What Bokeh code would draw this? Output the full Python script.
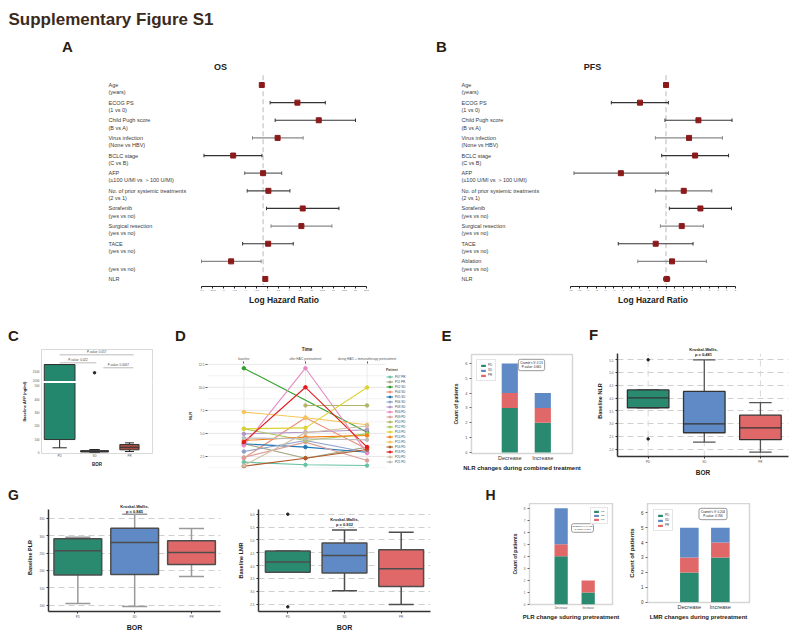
from bokeh.plotting import figure
from bokeh.layouts import column, row
from bokeh.models import Range1d, FixedTicker, Label, Span, Legend, LegendItem, ColumnDataSource
from bokeh.core.properties import value
from bokeh.embed import file_html
from bokeh.resources import INLINE

FONT = "Liberation Sans"
INK = "#222222"
TICK = "#555555"
LETTER = "#2b1d12"

# ---------------- data ----------------
# A / B : forest plots (log hazard ratio with 95% CI)
os_labels = ["Age", "ECOG PS", "Child Pugh score", "Virus infection", "BCLC stage", "AFP",
             "No. of prior systemic treatments", "Sorafenib", "Surgical resection", "TACE", "", "NLR"]
pfs_labels = ["Age", "ECOG PS", "Child Pugh score", "Virus infection", "BCLC stage", "AFP",
              "No. of prior systemic treatments", "Sorafenib", "Surgical resection", "TACE", "Ablation", "NLR"]
sub_labels = ["(years)", "(1 vs 0)", "(B vs A)", "(None vs HBV)", "(C vs B)", "(≤100 U/Ml vs ＞100 U/Ml)",
              "(2 vs 1)", "(yes vs no)", "(yes vs no)", "(yes vs no)", "(yes vs no)", ""]
os_est = [-0.3, 7.8, 12.65, 3.3, -6.8, 0.0, 1.2, 9.0, 8.7, 1.15, -7.27, 0.5]
os_lo = [-0.4, 1.6, 2.74, -2.41, -13.44, -4.18, -3.62, 0.77, 1.8, -4.65, -14.0, 0.4]
os_hi = [-0.2, 14.14, 21.0, 9.1, -0.26, 4.23, 6.1, 17.23, 15.64, 6.85, -0.44, 0.6]
os_ticks = [-14, -11.5, -9, -6.5, -4, -1.5, 1, 3.5, 6, 8.5, 11, 13.5, 16, 18.5, 21, 23.5]
pfs_est = [0.0, -3.0, 3.73, 2.65, 3.35, -5.2, 2.04, 3.96, 1.81, -1.19, 0.69, 0.08]
pfs_lo = [-0.1, -6.3, -0.12, -1.23, -0.5, -10.6, -1.23, 0.38, -0.65, -5.5, -3.25, -0.27]
pfs_hi = [0.1, 0.27, 7.6, 6.5, 7.2, 0.27, 5.27, 7.54, 4.3, 3.11, 4.65, 0.42]
pfs_ticks = [-11, -10, -9, -8, -7, -6, -5, -4, -3, -2, -1, 0, 1, 2, 3, 4, 5, 6, 7, 8]

# C : baseline AFP by BOR (broken axis)
bor = ["PD", "SD", "PR"]
afp_q1 = [95, 2, 18]
afp_med = [2890, 5, 37]
afp_q3 = [2890, 12, 58]
afp_lo = [33, 0, 5]
afp_hi = [2890, 20, 70]
afp_out_x = [1]
afp_out_y = [2430]
afp_ticks = [0, 100, 200, 300, 400, 500, 2000, 2500]
afp_pairs = [(0, 2.12), (0, 1.05), (1.25, 2.11)]
afp_pvals = ["P-value: 0.057", "P-value: 0.022", "P-value: 0.0067"]

# D : NLR over time per patient
time_labels = ["baseline", "after HAIC pretreatment", "during HAIC + immunotherapy pretreatment"]
patients = ["P07 PR", "P11 PR", "P02 SD", "P04 SD", "P05 SD", "P06 SD", "P08 SD", "P03 PD", "P09 PD",
            "P10 PD", "P12 PD", "P13 PD", "P14 PD", "P15 PD", "P16 PD", "P18 PD", "P20 PD", "P21 PD"]
nlr_baseline = [1.88, 3.87, 12.07, 2.31, 3.87, 3.03, 4.95, 3.70, 2.40, None, 5.50, 5.50, 4.23, 7.31, 1.44, 4.05, 1.51, 4.50]
nlr_after = [1.59, 2.31, None, 6.70, 3.51, 4.23, 5.13, 12.07, 4.05, 8.03, 4.23, 5.60, 4.59, 6.70, 2.31, 10.0, 5.06, 4.41]
nlr_during = [1.51, 3.51, 5.13, 3.30, 2.96, 2.96, 5.40, 2.86, 2.06, 8.03, 4.95, 9.98, 4.77, 5.93, 3.25, 3.51, 5.80, 4.30]
nlr_major = [2.5, 5.0, 7.5, 10.0, 12.5]
nlr_minor = [1.25, 3.75, 6.25, 8.75, 11.25]

# E : NLR change vs BOR counts
change_cats = ["Decrease", "Increase"]
e_pd = [3, 2]
e_pr = [1, 1]
e_sd = [2, 1]

# F : baseline NLR box stats
nlr_q1 = [3.62, 2.64, 2.37]
nlr_med = [4.01, 2.99, 2.83]
nlr_q3 = [4.32, 4.26, 3.33]
nlr_lo = [3.62, 2.27, 1.88]
nlr_hi = [4.32, 5.50, 3.82]
nlr_out_x = [0, 0]
nlr_out_y = [5.50, 2.40]
nlr_ticks = [2.0, 2.5, 3.0, 3.5, 4.0, 4.5, 5.0, 5.5]

# G : baseline PLR / LMR box stats
plr_q1 = [187.4, 188.5, 217.0]
plr_med = [256.7, 281.0, 252.0]
plr_q3 = [291.3, 322.0, 285.6]
plr_lo = [105.0, 96.0, 183.0]
plr_hi = [296.0, 362.0, 321.0]
plr_ticks = [100, 150, 200, 250, 300, 350]
lmr_q1 = [3.75, 3.72, 3.20]
lmr_med = [4.15, 4.40, 3.89]
lmr_q3 = [4.57, 4.88, 4.62]
lmr_lo = [3.75, 3.03, 2.50]
lmr_hi = [4.57, 5.39, 5.30]
lmr_out_x = [0, 0]
lmr_out_y = [6.0, 2.41]
lmr_ticks = [2.5, 3.0, 3.5, 4.0, 4.5, 5.0, 5.5, 6.0]

# H : PLR / LMR change vs BOR counts
h1_pd = [4, 1]
h1_pr = [1, 1]
h1_sd = [3, 0]
h2_pd = [2, 3]
h2_pr = [1, 1]
h2_sd = [2, 1]

GREEN = "#2a8a70"
BLUE = "#5f8ac6"
RED = "#e06868"
patient_colors = ["#66c2a5", "#a6a683", "#33a02c", "#e8907a", "#1f78b4", "#8da0cb", "#b294c7", "#e78ac3",
                  "#d9a09b", "#b5b56a", "#a8c85a", "#ddd232", "#f57f17", "#f6c45a", "#b15928", "#e31a1c",
                  "#d0bda3", "#bdbdbd"]


# ---------------- helpers ----------------
def mkfig(page, frame, xr, yr, x_axis_location="below", y_axis_location="left"):
    x0, y0, x1, y1 = page
    fl, ft, fr, fb = frame
    p = figure(frame_width=fr - fl, frame_height=fb - ft,
               min_border_left=fl - x0, min_border_right=x1 - fr,
               min_border_top=ft - y0, min_border_bottom=y1 - fb,
               x_range=Range1d(*xr), y_range=Range1d(*yr),
               x_axis_location=x_axis_location, y_axis_location=y_axis_location,
               output_backend="svg", toolbar_location=None, title=None)
    if "frame_align" in p.properties():
        p.frame_align = False
    p.outline_line_color = None
    p.background_fill_color = "white"
    p.border_fill_color = "white"
    p.grid.visible = False
    return p


def put(p, frame, px, py, text, size, bold=False, align="center", baseline="middle",
        angle=0.0, color=INK, **kw):
    fl, ft, fr, fb = frame
    p.add_layout(Label(x=px - fl, y=fb - py, x_units="screen", y_units="screen",
                       text=text, text_font=FONT, text_font_size=f"{size}px",
                       text_font_style="bold" if bold else "normal",
                       text_align=align, text_baseline=baseline, angle=angle,
                       text_color=color, **kw))


def style_axis(ax, label, label_size, tick_size, line_color=None, line_width=1.0,
               tick_out=2, label_standoff=2, tick_standoff=2, tick_color=TICK):
    ax.axis_label = label
    ax.axis_label_text_font = FONT
    ax.axis_label_text_font_size = f"{label_size}px"
    ax.axis_label_text_font_style = "bold"
    ax.axis_label_text_color = INK
    ax.axis_label_standoff = label_standoff
    ax.major_label_text_font = FONT
    ax.major_label_text_font_size = f"{tick_size}px"
    ax.major_label_text_color = tick_color
    ax.major_label_standoff = tick_standoff
    ax.axis_line_color = line_color
    ax.axis_line_width = line_width
    ax.major_tick_line_color = line_color if line_color else "#666666"
    ax.major_tick_in = 0
    ax.major_tick_out = tick_out
    ax.minor_tick_line_color = None


def forest(page, frame, labels, est, lo, hi, ticks, axis_px, label_px, shades):
    fl, ft, fr, fb = frame
    a0, a1 = axis_px
    t0, t1 = ticks[0], ticks[-1]
    sc = (a1 - a0) / (t1 - t0)
    xr = (t0 - (a0 - fl) / sc, t1 + (fr - a1) / sc)
    n = len(labels)
    r0_px, rn_px = 84.5, 278.5
    rs = (rn_px - r0_px) / (n - 1)
    yr = ((n - 1) + (fb - rn_px) / rs, -(r0_px - ft) / rs)
    p = mkfig(page, frame, xr, yr, x_axis_location=None, y_axis_location=None)
    rows = list(range(n))
    p.segment(x0=[0], y0=[-0.55], x1=[0], y1=[yr[0]], line_color="#d0d0d0",
              line_dash="5 3", line_width=1.5)
    p.segment(x0=lo, y0=rows, x1=hi, y1=rows, line_color=shades, line_width=1.2)
    p.segment(x0=lo, y0=[r - 0.1 for r in rows], x1=lo, y1=[r + 0.1 for r in rows],
              line_color=shades, line_width=1.0)
    p.segment(x0=hi, y0=[r - 0.1 for r in rows], x1=hi, y1=[r + 0.1 for r in rows],
              line_color=shades, line_width=1.0)
    p.scatter(x=est, y=rows, marker="square", size=5, fill_color="#8b1a1a", line_color="#8b1a1a")
    lx = xr[0] + (label_px - fl) / sc
    p.text(x=[lx] * n, y=rows, text=labels, text_font=value(FONT), text_font_size=value("5.5px"),
           text_baseline="middle", text_align="left", text_color="#3a3a3a")
    p.text(x=[lx] * n, y=[r + 0.41 for r in rows], text=sub_labels, text_font=value(FONT),
           text_font_size=value("5.5px"), text_baseline="middle", text_align="left", text_color="#3a3a3a")
    return p


def forest_axis(page, ticks, axis_px):
    x0, y0, x1, y1 = page
    a0, a1 = axis_px
    q = mkfig(page, (a0, y0, a1, y0 + 1), (ticks[0], ticks[-1]), (0, 1), y_axis_location=None)
    ax = q.xaxis[0]
    ax.ticker = FixedTicker(ticks=ticks)
    style_axis(ax, "Log Hazard Ratio", 8.5, 2.5, line_color="#222222", tick_out=2,
               label_standoff=1, tick_standoff=1)
    return q


def boxplot(p, q1, med, q3, lo, hi, colors, width, cap_w, box_line, whisk_color, lw):
    xs = list(range(len(q1)))
    p.segment(x0=xs, y0=q3, x1=xs, y1=hi, line_color=whisk_color, line_width=lw)
    p.segment(x0=xs, y0=lo, x1=xs, y1=q1, line_color=whisk_color, line_width=lw)
    p.segment(x0=[x - cap_w / 2 for x in xs], y0=hi, x1=[x + cap_w / 2 for x in xs], y1=hi,
              line_color=whisk_color, line_width=lw)
    p.segment(x0=[x - cap_w / 2 for x in xs], y0=lo, x1=[x + cap_w / 2 for x in xs], y1=lo,
              line_color=whisk_color, line_width=lw)
    p.vbar(x=xs, bottom=q1, top=q3, width=width, fill_color=colors, line_color=box_line, line_width=lw)
    p.segment(x0=[x - width / 2 for x in xs], y0=med, x1=[x + width / 2 for x in xs], y1=med,
              line_color=box_line, line_width=lw)


def bor_axes(p, ylabel, yticks, fmt, ybounds, xlab_size=6.5, ylab_size=5.5):
    style_axis(p.xaxis[0], "BOR", xlab_size, 3, line_color="#333333", line_width=1.5,
               label_standoff=2, tick_standoff=2)
    p.xaxis[0].ticker = FixedTicker(ticks=[0, 1, 2])
    p.xaxis[0].major_label_overrides = {i: b for i, b in enumerate(bor)}
    style_axis(p.yaxis[0], ylabel, ylab_size, 3, line_color="#333333", line_width=1.5,
               label_standoff=3, tick_standoff=2)
    p.yaxis[0].ticker = FixedTicker(ticks=yticks)
    p.yaxis[0].bounds = ybounds
    p.yaxis[0].major_label_overrides = {t: fmt.format(t) for t in yticks}
    p.ygrid.visible = True
    p.ygrid.grid_line_color = "#cfcfcf"
    p.ygrid.grid_line_dash = "6 4"
    p.ygrid.grid_line_width = 1


def stacked(p, pd_, pr_, sd_, width, legend_loc, legend_font, glyph_h, legend_margin, padding=3):
    src = ColumnDataSource(dict(x=[0, 1], PD=pd_, PR=pr_, SD=sd_))
    rs = p.vbar_stack(["PD", "PR", "SD"], x="x", width=width, fill_color=[GREEN, RED, BLUE],
                      line_color=None, source=src)
    leg = Legend(items=[LegendItem(label="PD", renderers=[rs[0]]),
                        LegendItem(label="SD", renderers=[rs[2]]),
                        LegendItem(label="PR", renderers=[rs[1]])],
                 location=legend_loc, label_text_font=FONT, label_text_font_size=f"{legend_font}px",
                 glyph_height=int(glyph_h), glyph_width=int(glyph_h * 2), label_height=int(glyph_h),
                 label_width=int(legend_font * 1.6), spacing=1, padding=padding, margin=legend_margin,
                 label_standoff=2, border_line_color="#cccccc", border_line_width=1,
                 background_fill_color="white")
    p.add_layout(leg)
    p.outline_line_color = "#d6d6d6"
    p.outline_line_width = 1.5


def strip(page):
    x0, y0, x1, y1 = page
    return mkfig(page, page, (x0, x1), (y1, y0), x_axis_location=None, y_axis_location=None)


# ---------------- row 1 : A / B ----------------
pageA, frameA = (0, 0, 400, 285), (0, 0, 400, 285)
pageB, frameB = (400, 0, 796, 285), (400, 0, 796, 285)
shades_os = ["#333333", "#333333", "#333333", "#888888", "#333333", "#666666", "#444444", "#333333",
             "#888888", "#333333", "#888888", "#333333"]
shades_pfs = ["#333333", "#333333", "#333333", "#888888", "#333333", "#666666", "#777777", "#333333",
              "#888888", "#333333", "#888888", "#333333"]
axA, axB = (201, 366), (570, 735)
pA = forest(pageA, frameA, os_labels, os_est, os_lo, os_hi, os_ticks, axA, 108, shades_os)
put(pA, frameA, 8, 19, "Supplementary Figure S1", 17, bold=True, align="left", color="#3b2a1e")
put(pA, frameA, 67, 46, "A", 15, bold=True, color=LETTER)
put(pA, frameA, 220, 66, "OS", 9, bold=True)
pB = forest(pageB, frameB, pfs_labels, pfs_est, pfs_lo, pfs_hi, pfs_ticks, axB, 461, shades_pfs)
put(pB, frameB, 441, 46, "B", 15, bold=True, color=LETTER)
put(pB, frameB, 592, 66, "PFS", 9, bold=True)
pAx = forest_axis((0, 285, 400, 316), os_ticks, axA)
pBx = forest_axis((400, 285, 796, 316), pfs_ticks, axB)

# ---------------- row 2 ----------------
s2page = (0, 316, 796, 344)
s2 = strip(s2page)
for ch, cx, cy in [("C", 13, 335), ("D", 180, 335), ("E", 446, 335), ("F", 593, 334)]:
    put(s2, s2page, cx, cy, ch, 15, bold=True, color=LETTER)

# C
AFP_BREAK_LO, AFP_BREAK_HI, AFP_GAP, AFP_UPPER = 500, 2000, 38, 0.134


def afp_disp(v):
    return v if v <= AFP_BREAK_LO else AFP_BREAK_LO + AFP_GAP + (v - AFP_BREAK_HI) * AFP_UPPER


pageC, frameC = (0, 344, 170, 476), (41, 349, 152, 453)
pC = mkfig(pageC, frameC, (-0.52, 2.66), (-9.7, 770))
pC.outline_line_color = "#d9d9d9"
pC.outline_line_width = 1
xs3 = [0, 1, 2]
c_w = [0.88, 0.8, 0.55]
c_cap = [0.41, 0.3, 0.26]
c_cols = ["#23876e", "#808080", "#a84c40"]
pC.segment(x0=xs3, y0=[afp_disp(v) for v in afp_lo], x1=xs3, y1=[afp_disp(v) for v in afp_q1],
           line_color="#222222", line_width=1)
pC.segment(x0=xs3, y0=[afp_disp(v) for v in afp_q3], x1=xs3, y1=[afp_disp(v) for v in afp_hi],
           line_color="#222222", line_width=1)
pC.segment(x0=[x - c / 2 for x, c in zip(xs3, c_cap)], y0=[afp_disp(v) for v in afp_lo],
           x1=[x + c / 2 for x, c in zip(xs3, c_cap)], y1=[afp_disp(v) for v in afp_lo],
           line_color="#222222", line_width=1)
pC.segment(x0=[x - c / 2 for x, c in zip(xs3, c_cap)], y0=[afp_disp(v) for v in afp_hi],
           x1=[x + c / 2 for x, c in zip(xs3, c_cap)], y1=[afp_disp(v) for v in afp_hi],
           line_color="#222222", line_width=1)
pC.vbar(x=xs3, width=c_w, bottom=[afp_disp(v) for v in afp_q1], top=[afp_disp(v) for v in afp_q3],
        fill_color=c_cols, line_color="#333333", line_width=1)
pC.segment(x0=[x - w / 2 for x, w in zip(xs3, c_w)], y0=[afp_disp(v) for v in afp_med],
           x1=[x + w / 2 for x, w in zip(xs3, c_w)], y1=[afp_disp(v) for v in afp_med],
           line_color="#333333", line_width=1)
pC.scatter(x=afp_out_x, y=[afp_disp(v) for v in afp_out_y], size=2.5, color="#222222")
pC.add_layout(Span(location=AFP_BREAK_LO + AFP_GAP * 0.7, dimension="width", line_color="white",
                   line_width=2))
br_y = [730, 670, 633]
for (a, b), yv, t in zip(afp_pairs, br_y, afp_pvals):
    pC.segment(x0=[a], y0=[yv], x1=[b], y1=[yv], line_color="#bbbbbb", line_width=1)
    pC.text(x=[(a + b) / 2], y=[yv], text=[t], text_font=value(FONT), text_font_size=value("3px"),
            text_align="center", text_baseline="bottom", text_color="#444444", y_offset=-1)
style_axis(pC.xaxis[0], "BOR", 4.5, 3, line_color=None, tick_out=0, label_standoff=1, tick_standoff=1)
pC.xaxis[0].ticker = FixedTicker(ticks=xs3)
pC.xaxis[0].major_label_overrides = {i: b for i, b in enumerate(bor)}
style_axis(pC.yaxis[0], "Baseline AFP (ng/ml)", 4, 3, line_color=None, tick_out=0,
           label_standoff=3, tick_standoff=2)
pC.yaxis[0].ticker = FixedTicker(ticks=[afp_disp(v) for v in afp_ticks])
pC.yaxis[0].major_label_overrides = {afp_disp(v): str(v) for v in afp_ticks}

# D
pageD, frameD = (170, 344, 445, 476), (207, 358, 406, 463)
D_GRID_END = 2.30
pD = mkfig(pageD, frameD, (-0.59, 2.64), (1.19, 12.58), x_axis_location="above")
pD.segment(x0=[-0.59] * len(nlr_minor), y0=nlr_minor, x1=[D_GRID_END] * len(nlr_minor), y1=nlr_minor,
           line_color="#f2f2f2", line_width=1)
pD.segment(x0=[-0.59] * len(nlr_major), y0=nlr_major, x1=[D_GRID_END] * len(nlr_major), y1=nlr_major,
           line_color="#e6e6e6", line_width=1)
pD.segment(x0=[0, 1, 2], y0=[1.19] * 3, x1=[0, 1, 2], y1=[12.58] * 3, line_color="#ebebeb", line_width=1)
items = []
for i, name in enumerate(patients):
    pts = [(t, v) for t, v in enumerate((nlr_baseline[i], nlr_after[i], nlr_during[i])) if v is not None]
    xs = [t for t, _ in pts]
    ys = [v for _, v in pts]
    lr = pD.line(xs, ys, line_color=patient_colors[i], line_width=1.1)
    sr = pD.scatter(xs, ys, size=3.5, color=patient_colors[i])
    items.append(LegendItem(label=name, renderers=[lr, sr]))
legD = Legend(items=items, location=(179, 4), title="Patient", title_text_font=FONT,
              title_text_font_size="3.5px", title_text_font_style="bold", title_standoff=2,
              label_text_font=FONT, label_text_font_size="3px", glyph_height=5, glyph_width=7,
              label_height=5, label_width=10, spacing=0, padding=0, margin=0, label_standoff=2,
              border_line_color=None, background_fill_alpha=0)
pD.add_layout(legD)
style_axis(pD.xaxis[0], "Time", 4.5, 3, line_color=None, tick_out=2, label_standoff=2, tick_standoff=1)
pD.xaxis[0].major_tick_line_color = "#555555"
pD.xaxis[0].ticker = FixedTicker(ticks=[0, 1, 2])
pD.xaxis[0].major_label_overrides = {i: t for i, t in enumerate(time_labels)}
style_axis(pD.yaxis[0], "NLR", 4, 3, line_color=None, tick_out=2, label_standoff=3, tick_standoff=1)
pD.yaxis[0].major_tick_line_color = "#555555"
pD.yaxis[0].ticker = FixedTicker(ticks=nlr_major)
pD.yaxis[0].major_label_overrides = {2.5: "2.5", 5.0: "5.0", 7.5: "7.5", 10.0: "10.0", 12.5: "12.5"}

# E
pageE, frameE = (445, 344, 583, 476), (471, 354, 572, 453)
pE = mkfig(pageE, frameE, (-1.16, 1.9), (-0.07, 6.6))
stacked(pE, e_pd, e_pr, e_sd, 0.49, "top_left", 3, 3, 5)
style_axis(pE.xaxis[0], "NLR changes during combined treatment", 6, 5.5, line_color=None, tick_out=0,
           label_standoff=1, tick_standoff=1, tick_color="#333333")
pE.xaxis[0].ticker = FixedTicker(ticks=[0, 1])
pE.xaxis[0].major_label_overrides = {i: c for i, c in enumerate(change_cats)}
style_axis(pE.yaxis[0], "Count of patients", 5, 4, line_color=None, tick_out=2, label_standoff=3,
           tick_standoff=2)
pE.yaxis[0].ticker = FixedTicker(ticks=[0, 1, 2, 3, 4, 5, 6])
put(pE, frameE, 531, 364.5, "Cramér's V: 0.13\nP-value: 0.665", 3, border_line_color="#999999",
    background_fill_color="white", padding=2, border_radius=2)

# F
pageF, frameF = (583, 344, 796, 476), (617, 345, 788, 456)
pF = mkfig(pageF, frameF, (-0.546, 2.5), (1.71, 6.06))
bor_axes(pF, "Baseline NLR", nlr_ticks, "{:.1f}", (1.71, 5.735))
pF.segment(x0=[0, 1, 2], y0=[1.71] * 3, x1=[0, 1, 2], y1=[5.735] * 3, line_color="#d9d9d9",
           line_dash="6 4", line_width=1)
boxplot(pF, nlr_q1, nlr_med, nlr_q3, nlr_lo, nlr_hi, [GREEN, BLUE, RED], 0.74, 0.4,
        "#333333", "#555555", 1.3)
pF.scatter(x=nlr_out_x, y=nlr_out_y, size=2.5, color="#222222")
put(pF, frameF, 703, 348.5, "Kruskal-Wallis,", 4, bold=True)
put(pF, frameF, 703, 353.5, "p = 0.481", 4, bold=True)

# ---------------- row 3 ----------------
s3page = (0, 476, 796, 498)
s3 = strip(s3page)
for ch, cx, cy in [("G", 13, 489.5), ("H", 490, 489.5)]:
    put(s3, s3page, cx, cy, ch, 14, bold=True, color=LETTER)

pageG1, frameG1 = (0, 498, 230, 632), (48, 498, 220, 606)
pG1 = mkfig(pageG1, frameG1, (-0.516, 2.51), (81.8, 393.3))
bor_axes(pG1, "Baseline PLR", plr_ticks, "{:d}", (81.8, 376), xlab_size=7, ylab_size=5.5)
boxplot(pG1, plr_q1, plr_med, plr_q3, plr_lo, plr_hi, [GREEN, BLUE, RED], 0.84, 0.44,
        "#4d4d4d", "#999999", 1.5)
put(pG1, frameG1, 134, 500.5, "Kruskal-Wallis,", 4, bold=True)
put(pG1, frameG1, 134, 505.5, "p = 0.845", 4, bold=True)

pageG2, frameG2 = (230, 498, 445, 632), (258, 504, 430, 606)
pG2 = mkfig(pageG2, frameG2, (-0.517, 2.517), (2.23, 6.18))
bor_axes(pG2, "Baseline LMR", lmr_ticks, "{:.1f}", (2.23, 6.18), xlab_size=7, ylab_size=5.5)
boxplot(pG2, lmr_q1, lmr_med, lmr_q3, lmr_lo, lmr_hi, [GREEN, BLUE, RED], 0.79, 0.44,
        "#4d4d4d", "#4d4d4d", 1.5)
pG2.scatter(x=lmr_out_x, y=lmr_out_y, size=2.5, color="#222222")
put(pG2, frameG2, 344, 513.5, "Kruskal-Wallis,", 4, bold=True)
put(pG2, frameG2, 344, 518.5, "p = 0.932", 4, bold=True)

pageH1, frameH1 = (445, 498, 625, 632), (529, 498, 612, 599)
pH1 = mkfig(pageH1, frameH1, (-1.17, 1.9), (0, 8.39))
stacked(pH1, h1_pd, h1_pr, h1_sd, 0.49, "top_right", 2.5, 3, 4, padding=2)
style_axis(pH1.xaxis[0], "PLR change sduring pretreatment", 6, 3, line_color=None, tick_out=0,
           label_standoff=1, tick_standoff=2)
pH1.xaxis[0].ticker = FixedTicker(ticks=[0, 1])
pH1.xaxis[0].major_label_overrides = {i: c for i, c in enumerate(change_cats)}
style_axis(pH1.yaxis[0], "Count of patients", 5, 3, line_color=None, tick_out=2, label_standoff=3,
           tick_standoff=2)
pH1.yaxis[0].ticker = FixedTicker(ticks=list(range(9)))
put(pH1, frameH1, 582, 522.5, "Cramér's V: 0.408\nP-value: 0.361", 2.5, border_line_color="#999999",
    background_fill_color="white", padding=1, border_radius=2)

pageH2, frameH2 = (625, 498, 796, 632), (647, 498, 749, 597)
pH2 = mkfig(pageH2, frameH2, (-1.35, 1.94), (-0.02, 6.62))
stacked(pH2, h2_pd, h2_pr, h2_sd, 0.6, "top_left", 3, 3, 6)
style_axis(pH2.xaxis[0], "LMR changes during pretreatment", 6, 5.5, line_color=None, tick_out=0,
           label_standoff=1, tick_standoff=1, tick_color="#333333")
pH2.xaxis[0].ticker = FixedTicker(ticks=[0, 1])
pH2.xaxis[0].major_label_overrides = {i: c for i, c in enumerate(change_cats)}
style_axis(pH2.yaxis[0], "Count of patients", 6, 4.5, line_color=None, tick_out=2, label_standoff=3,
           tick_standoff=2, tick_color="#333333")
pH2.yaxis[0].ticker = FixedTicker(ticks=list(range(7)))
put(pH2, frameH2, 712.5, 508.5, "Cramér's V: 0.204\nP-value: 0.766", 3, border_line_color="#999999",
    background_fill_color="white", padding=2, border_radius=2)

layout = column(row(pA, pB), row(pAx, pBx),
                s2,
                row(pC, pD, pE, pF),
                s3,
                row(pG1, pG2, pH1, pH2))
open("out.html", "w").write(file_html(layout, INLINE))
